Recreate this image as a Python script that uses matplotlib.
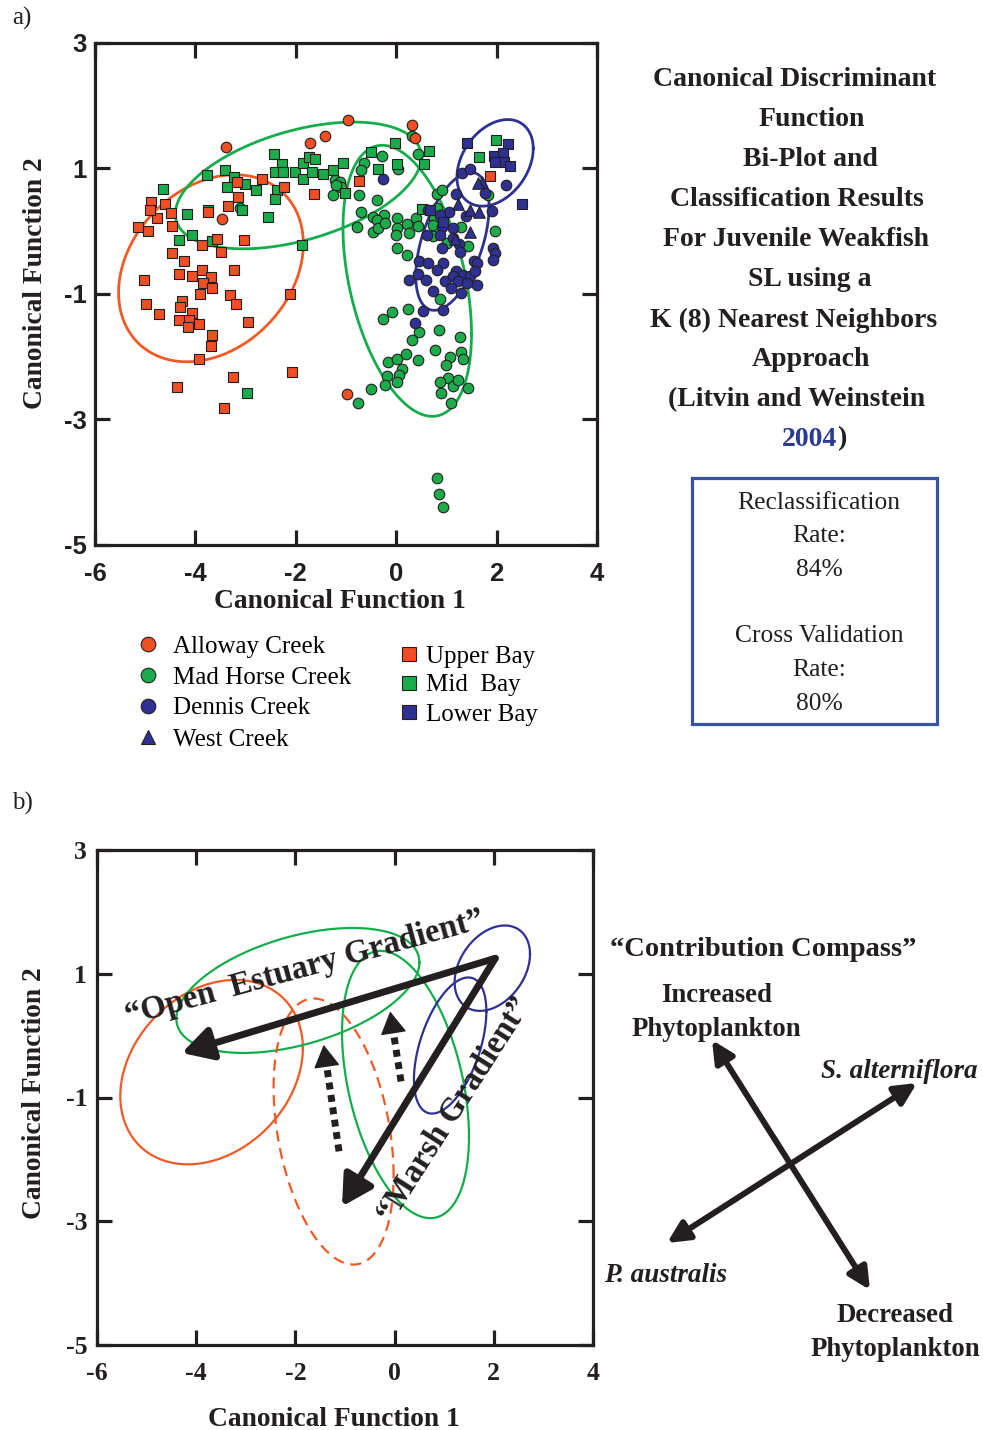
import numpy as np
import matplotlib
matplotlib.use("Agg")
import matplotlib.pyplot as plt
from matplotlib.lines import Line2D
from matplotlib.patches import Rectangle

plt.rcParams["axes.unicode_minus"] = False

SERIF = "Liberation Serif"
SANS = "Liberation Sans"
INK = "#231f20"
ORANGE = "#f04e23"
GREEN = "#1bab4b"
BLUE = "#2e3192"
E_ORANGE = "#f15a24"
E_GREEN = "#13ad4b"
E_BLUE = "#2e3192"

# ---- panel a scores (canonical function 1, canonical function 2) ----
upper_bay = np.array([
    (-3.17, 0.79), (-2.68, 0.83), (-2.24, 0.70), (-1.64, 0.59), (-3.15, 0.54), (-3.36, 0.40),
    (-3.74, 0.31), (-4.88, 0.46), (-4.61, 0.44), (-4.49, 0.29), (-4.77, 0.21), (-4.46, 0.09),
    (-5.15, 0.06), (-4.94, 0.00), (-4.90, 0.34), (-3.57, -0.12), (-3.03, -0.14), (-3.87, -0.22),
    (-3.50, -0.33), (-4.47, -0.34), (-4.22, -0.48), (-3.24, -0.61), (-5.02, -0.77), (-4.32, -0.68),
    (-4.07, -0.72), (-3.87, -0.62), (-3.69, -0.73), (-3.85, -0.82), (-3.66, -0.91), (-3.91, -1.00),
    (-3.31, -1.02), (-3.19, -1.16), (-2.12, -1.00), (-4.98, -1.16), (-4.72, -1.32), (-4.27, -1.11),
    (-4.30, -1.21), (-4.06, -1.30), (-4.33, -1.41), (-4.13, -1.41), (-4.15, -1.53), (-3.93, -1.48),
    (-2.95, -1.45), (-3.66, -1.66), (-3.69, -1.83), (-3.93, -2.03), (-2.07, -2.25), (-3.25, -2.32),
    (-4.37, -2.49), (-3.44, -2.82), (-0.75, 0.80), (1.87, 0.88),
])
mid_bay = np.array([
    (-4.64, 0.68), (-3.77, 0.90), (-3.41, 0.98), (-3.24, 0.86), (-3.38, 0.70), (-3.01, 0.75),
    (-2.80, 0.66), (-2.43, 1.23), (-2.28, 1.07), (-2.42, 0.95), (-2.26, 0.95), (-2.38, 0.66),
    (-2.42, 0.51), (-2.02, 0.95), (-1.85, 0.83), (-1.85, 1.09), (-1.73, 1.19), (-1.62, 1.15),
    (-1.68, 0.95), (-1.46, 0.92), (-1.25, 0.97), (-1.05, 1.08), (-1.02, 0.61), (-4.17, 0.28),
    (-3.74, 0.34), (-3.07, 0.34), (-2.56, 0.22), (-4.33, -0.14), (-4.06, -0.06), (-3.66, -0.15),
    (-1.88, -0.22), (-2.97, -2.57), (-0.50, 1.27), (-0.02, 1.41), (-0.36, 0.99), (0.01, 1.07),
    (0.55, 1.07), (0.65, 1.28), (0.51, 0.35), (1.65, 1.19), (1.98, 1.45),
])
lower_bay = np.array([
    (1.42, 1.41), (1.95, 1.20), (2.23, 1.39), (2.13, 1.24), (2.15, 1.11), (2.27, 1.04),
    (1.97, 1.11), (2.50, 0.43), (0.93, 0.14), (0.67, 0.34),
])
alloway = np.array([
    (-3.40, 1.35), (-1.72, 1.40), (-1.42, 1.51), (-0.97, 1.77), (0.31, 1.69), (0.37, 1.48),
    (-3.48, 0.19), (-0.99, -2.60),
])
mad_horse = np.array([
    (-1.22, 0.82), (-1.12, 0.79), (-1.09, 0.70), (-1.19, 0.74), (-1.25, 0.58), (-3.11, 0.37),
    (0.31, 1.51), (0.44, 1.23), (-0.29, 1.20), (-0.64, 1.09), (-0.70, 0.98), (0.04, 0.99),
    (-0.74, 0.58), (-0.38, 0.50), (-0.70, 0.31), (-0.47, 0.23), (-0.24, 0.26), (-0.39, 0.18),
    (-0.79, 0.06), (-0.47, -0.01), (-0.36, 0.05), (-0.22, 0.13), (0.02, 0.21), (0.22, 0.12),
    (0.40, 0.21), (0.44, 0.09), (0.01, 0.05), (0.00, -0.06), (0.26, -0.02), (0.02, -0.27),
    (0.21, -0.38), (0.75, 0.21), (0.74, 0.10), (0.74, -0.08), (0.81, 0.60), (0.91, 0.66),
    (0.81, 0.37), (1.01, -0.19), (1.29, 0.06), (1.44, -0.24), (1.82, 0.58), (1.97, 0.00),
    (0.87, -1.08), (-0.09, -1.29), (-0.26, -1.40), (0.24, -1.24), (0.46, -1.61), (0.31, -1.74),
    (0.86, -1.58), (1.27, -1.69), (0.77, -1.89), (-0.17, -2.08), (0.01, -2.03), (0.20, -1.95),
    (0.43, -2.05), (0.11, -2.20), (0.06, -2.29), (-0.18, -2.31), (0.01, -2.40), (-0.22, -2.45),
    (1.07, -2.00), (1.29, -1.92), (1.34, -2.03), (0.99, -2.13), (1.03, -2.34), (0.87, -2.41),
    (1.13, -2.46), (1.24, -2.37), (1.44, -2.50), (0.89, -2.58), (1.09, -2.74), (-0.50, -2.52),
    (-0.77, -2.74), (0.81, -3.94), (0.85, -4.19), (0.94, -4.39),
])
dennis = np.array([
    (-0.26, 0.83), (1.32, 0.93), (1.48, 0.99), (2.18, 0.74), (1.77, 0.61), (1.90, 0.32),
    (1.20, 0.59), (1.05, 0.30), (1.40, 0.24), (0.64, 0.34), (0.87, 0.26), (1.13, 0.05),
    (0.91, 0.07), (0.61, -0.06), (0.87, -0.06), (1.13, -0.11), (1.26, -0.20), (1.28, -0.33),
    (0.91, -0.27), (1.93, -0.26), (1.97, -0.35), (1.93, -0.46), (1.54, -0.47), (1.60, -0.51),
    (0.46, -0.47), (0.63, -0.51), (0.93, -0.51), (0.81, -0.62), (1.19, -0.63), (1.34, -0.70),
    (1.47, -0.71), (1.57, -0.63), (0.44, -0.68), (0.59, -0.78), (0.97, -0.80), (1.14, -0.72),
    (1.24, -0.80), (1.42, -0.82), (1.60, -0.85), (0.26, -0.77), (0.73, -0.95), (1.10, -0.91),
    (1.29, -0.98), (0.93, -1.25), (0.54, -1.27), (0.37, -1.46),
])
west = np.array([
    (1.70, 0.79), (1.62, 0.77), (1.24, 0.44), (1.47, 0.34), (1.64, 0.30), (1.47, -0.01),
    (1.17, -0.12),
])

# group ellipses: centre x, centre y, half-width x, half-height y, correlation
ell_alloway = (-3.69, -0.59, 1.84, 1.49, 0.26)
ell_midbay = (-1.95, 0.73, 2.45, 1.01, 0.45)
ell_madhorse = (0.22, -0.79, 1.28, 2.16, -0.39)
ell_lowerbay = (1.97, 1.09, 0.76, 0.69, 0.33)
ell_dennis = (1.12, -0.16, 0.73, 1.10, 0.5)
ell_shift = (-1.23, -1.55, 1.21, 2.15, -0.33)

# panel b gradients
grad_origin = (2.03, 1.25)
grad_open = (-4.29, -0.28)
grad_marsh = (-1.06, -2.76)
shift_tails = [(-1.12, -1.87), (0.13, -0.74)]
shift_heads = [(-1.43, -0.15), (-0.09, 0.39)]

x_ticks = [-6, -4, -2, 0, 2, 4]
y_ticks = [-5, -3, -1, 1, 3]


def ellipse_xy(cx, cy, sx, sy, r, n=300):
    t = np.linspace(0, 2 * np.pi, n)
    return cx + sx * np.cos(t), cy + sy * (r * np.cos(t) + np.sqrt(1 - r * r) * np.sin(t))


def style_axes(ax, family, pad_x, pad_y):
    ax.set_xlim(-6, 4)
    ax.set_ylim(-5, 3)
    tick_font = dict(fontfamily=family, fontweight="bold", fontsize=18.5, color=INK)
    ax.set_xticks(x_ticks, labels=[str(v) for v in x_ticks], **tick_font)
    ax.set_yticks(y_ticks, labels=[str(v) for v in y_ticks], **tick_font)
    for s in ax.spines.values():
        s.set_linewidth(2.3)
        s.set_color(INK)
    ax.tick_params(direction="in", length=10.5, width=2.3, color=INK,
                   top=True, right=True)
    ax.tick_params(axis="x", pad=pad_x)
    ax.tick_params(axis="y", pad=pad_y)


fig = plt.figure(figsize=(9.83, 14.30), dpi=100)
W, H = 983, 1430

# ---------------- panel a ----------------
ax = fig.add_axes([95 / W, 1 - 545 / H, 502 / W, 502 / H])
style_axes(ax, SANS, 12, 6)
for ell, col in [(ell_alloway, E_ORANGE), (ell_midbay, E_GREEN), (ell_madhorse, E_GREEN),
                 (ell_lowerbay, E_BLUE), (ell_dennis, E_BLUE)]:
    ax.plot(*ellipse_xy(*ell), color=col, lw=2.0, zorder=1)

pt = dict(edgecolors=INK, linewidths=0.8, zorder=3)
ax.scatter(mad_horse[:, 0], mad_horse[:, 1], s=58, marker="o", c=GREEN, **pt)
ax.scatter(mid_bay[:, 0], mid_bay[:, 1], s=54, marker="s", c=GREEN, **pt)
ax.scatter(upper_bay[:, 0], upper_bay[:, 1], s=54, marker="s", c=ORANGE, **pt)
ax.scatter(alloway[:, 0], alloway[:, 1], s=58, marker="o", c=ORANGE, **pt)
ax.scatter(dennis[:, 0], dennis[:, 1], s=58, marker="o", c=BLUE, **pt)
ax.scatter(lower_bay[:, 0], lower_bay[:, 1], s=54, marker="s", c=BLUE, **pt)
ax.scatter(west[:, 0], west[:, 1], s=68, marker="^", c=BLUE, **pt)

lab = dict(fontfamily=SERIF, fontweight="bold", fontsize=19.8, color=INK)
ax.set_xlabel("Canonical Function 1", va="center", **lab)
ax.xaxis.set_label_coords(0.488, -0.1116)
ax.set_ylabel("Canonical Function 2", va="center", **lab)
ax.yaxis.set_label_coords(-0.1195, 0.522)

site_labels = ["Alloway Creek", "Mad Horse Creek", "Dennis Creek", "West Creek"]
site_style = [("o", ORANGE), ("o", GREEN), ("o", BLUE), ("^", BLUE)]
bay_labels = ["Upper Bay", "Mid  Bay", "Lower Bay"]
bay_colors = [ORANGE, GREEN, BLUE]
h1 = [Line2D([], [], ls="none", marker=m, ms=10.5, mfc=c, mec=INK, mew=0.8) for m, c in site_style]
h2 = [Line2D([], [], ls="none", marker="s", ms=9.5, mfc=c, mec=INK, mew=0.8) for c in bay_colors]
leg_font = dict(family=SERIF, size=18)
fig.legend(h1, site_labels, loc="upper left", bbox_to_anchor=(135.5 / W, 1 - 635 / H),
           frameon=False, prop=leg_font, handlelength=1.0, handletextpad=0.5,
           labelspacing=0.34, borderpad=0, borderaxespad=0)
fig.legend(h2, bay_labels, loc="upper left", bbox_to_anchor=(399 / W, 1 - 645 / H),
           frameon=False, prop=leg_font, handlelength=0.8, handletextpad=0.3,
           labelspacing=0.26, borderpad=0, borderaxespad=0)

# ---------------- panel b ----------------
bx = fig.add_axes([97 / W, 1 - 1345 / H, 496 / W, 495 / H])
style_axes(bx, SERIF, 12, 7)
for ell, col in [(ell_alloway, E_ORANGE), (ell_midbay, E_GREEN), (ell_madhorse, E_GREEN),
                 (ell_lowerbay, E_BLUE), (ell_dennis, E_BLUE)]:
    bx.plot(*ellipse_xy(*ell), color=col, lw=1.6, zorder=1)
bx.plot(*ellipse_xy(*ell_shift), color=E_ORANGE, lw=1.6, ls=(0, (5, 3)), zorder=1)

for end in (grad_open, grad_marsh):
    bx.annotate("", xy=end, xytext=grad_origin,
                arrowprops=dict(arrowstyle="-|>,head_length=0.9,head_width=0.5",
                                mutation_scale=20, lw=5, color=INK,
                                shrinkA=0, shrinkB=0), zorder=4)
for tail, head in zip(shift_tails, shift_heads):
    tail = np.array(tail)
    head = np.array(head)
    stop = head + (tail - head) * 0.3 / np.linalg.norm(tail - head)
    bx.plot([tail[0], stop[0]], [tail[1], stop[1]], color=INK, lw=5,
            ls=(0, (1, 0.8)), dash_capstyle="butt", zorder=4)
    bx.annotate("", xy=head, xytext=stop,
                arrowprops=dict(arrowstyle="-|>,head_length=0.72,head_width=0.42",
                                mutation_scale=20, lw=1, color=INK,
                                shrinkA=0, shrinkB=0), zorder=4)

bx.set_xlabel("Canonical Function 1", va="center", **lab)
bx.xaxis.set_label_coords(0.478, -0.1495)
bx.set_ylabel("Canonical Function 2", va="center", **lab)
bx.yaxis.set_label_coords(-0.125, 0.509)

# ---------------- text overlay (pixel coordinates) ----------------
ov = fig.add_axes([0, 0, 1, 1])
ov.set_xlim(0, W)
ov.set_ylim(H, 0)
ov.axis("off")

ov.text(22, 18, "a)", fontfamily=SERIF, fontsize=18, ha="center", va="center", color=INK)
ov.text(22, 803, "b)", fontfamily=SERIF, fontsize=18, ha="center", va="center", color=INK)

title_lines = ["Canonical Discriminant", "Function", "Bi-Plot and", "Classification Results",
               "For Juvenile Weakfish", "SL using a", "K (8) Nearest Neighbors", "Approach",
               "(Litvin and Weinstein"]
title_x = [795, 812, 810, 797, 796, 810, 794, 811, 797]
title_y = [79, 120, 160, 200, 240, 280, 320, 360, 400]
tfont = dict(fontfamily=SERIF, fontweight="bold", fontsize=20, color=INK, va="center")
for s, x, y in zip(title_lines, title_x, title_y):
    ov.text(x, y, s, ha="center", **tfont)
ov.text(837, 439, "2004", ha="right", **{**tfont, "color": "#2b3a93"})
ov.text(837, 439, ")", ha="left", **tfont)

ov.add_patch(Rectangle((692, 478), 245, 246, fill=False, ec="#3853a4", lw=2.3))
box_lines = ["Reclassification", "Rate:", "84%", "Cross Validation", "Rate:", "80%"]
box_y = [503, 536, 570, 636, 670, 704]
for s, y in zip(box_lines, box_y):
    ov.text(819, y, s, ha="center", va="center", fontfamily=SERIF, fontsize=18.4, color=INK)

grad_font = dict(fontfamily=SERIF, fontweight="bold", fontsize=23.5, color=INK,
                 ha="center", va="center", rotation_mode="anchor")
ov.text(305, 968, "\u201cOpen  Estuary Gradient\u201d", rotation=15.3, **grad_font)
ov.text(455, 1110, "\u201cMarsh Gradient\u201d", rotation=57.5, **grad_font)

cfont = dict(fontfamily=SERIF, fontweight="bold", fontsize=19.3, color=INK,
             ha="center", va="center")
ov.text(763, 950, "\u201cContribution Compass\u201d", **{**cfont, "fontsize": 20.5})
ov.text(717, 996, "Increased", **cfont)
ov.text(716, 1029, "Phytoplankton", **cfont)
ov.text(895, 1315, "Decreased", **cfont)
ov.text(895, 1350, "Phytoplankton", **cfont)
ov.text(899, 1071, "S. alterniflora", style="italic", **{**cfont, "fontsize": 19.5})
ov.text(666, 1275, "P. australis", style="italic", **{**cfont, "fontsize": 19.5})

compass_arms = [((712, 1040), (870, 1290)), ((917, 1083), (667, 1243))]
for a, b in compass_arms:
    ov.annotate("", xy=a, xytext=b,
                arrowprops=dict(arrowstyle="<|-|>,head_length=0.65,head_width=0.32",
                                mutation_scale=20, lw=4.3, color=INK,
                                shrinkA=0, shrinkB=0))

fig.savefig("out.png", dpi=100)
